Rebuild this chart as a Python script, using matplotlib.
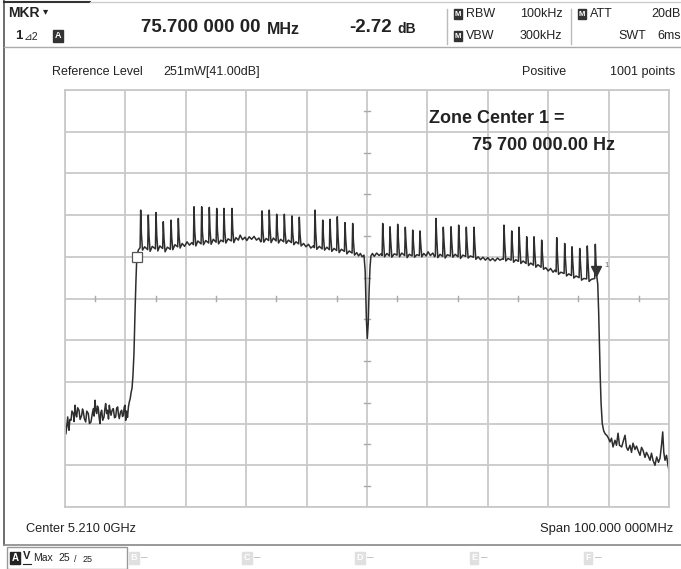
import numpy as np
import matplotlib
matplotlib.use("Agg")
import matplotlib.pyplot as plt
from matplotlib.lines import Line2D
from matplotlib.patches import Rectangle

plt.rcParams['font.family'] = ['Liberation Sans', 'DejaVu Sans']

# ---------------- data (frequency offset in MHz from 5160 MHz, level in dB) ----------------
start_freq_mhz = 5160.0
span_mhz = 100.0
ref_level_db = 41.0
db_per_div = 10.0

noise_left_f = [0.0, 0.15, 0.28, 0.45, 0.55, 0.66, 0.8, 0.99, 1.15, 1.38, 1.5, 1.66, 1.8, 1.93, 2.1, 2.32,
                2.5, 2.76, 2.9, 3.04, 3.2, 3.43, 3.6, 3.86, 4.05, 4.3, 4.5, 4.69, 4.82, 4.97, 5.1, 5.24,
                5.38, 5.52, 5.65, 5.79, 5.92, 6.07, 6.25, 6.46, 6.6, 6.73, 6.9, 7.06, 7.2, 7.34, 7.48,
                7.62, 7.8, 8.0, 8.2, 8.39, 8.55, 8.72, 8.85, 8.99, 9.2, 9.38, 9.52, 9.66, 9.8, 9.93, 10.05]
noise_left_v = [-39.0, -41.5, -39.8, -37.4, -39.5, -40.6, -38.0, -38.2, -36.0, -36.6, -38.5, -34.6, -36.8,
                -37.4, -35.2, -35.8, -38.0, -37.0, -35.5, -36.2, -37.8, -38.6, -36.0, -36.6, -39.0, -38.6,
                -36.8, -35.4, -37.2, -33.4, -35.8, -36.6, -34.8, -35.4, -37.5, -39.0, -36.4, -35.8, -38.2,
                -37.4, -35.5, -34.2, -36.6, -35.8, -37.9, -34.6, -36.0, -37.0, -35.8, -35.4, -37.6, -37.4,
                -35.3, -35.0, -36.9, -37.8, -36.2, -35.8, -37.3, -37.0, -35.1, -34.6, -38.2]

rise_f = [10.2, 10.35, 10.5, 10.65, 10.8, 10.95, 11.1, 11.25, 11.42, 11.59, 11.75, 11.87, 12.0, 12.14, 12.28]
rise_v = [-36.0, -37.5, -35.0, -33.8, -33.0, -31.5, -30.5, -27.5, -22.1, -12.5, -4.6, 0.2, 1.8, 2.6, 2.9]

g1_f = [12.43, 12.53, 12.65, 12.83, 13.2, 13.69, 13.79, 13.91, 14.09, 14.45, 14.97, 15.07, 15.19, 15.37, 15.7,
        16.17, 16.27, 16.39, 16.57, 16.95, 17.45, 17.55, 17.67, 17.85, 18.2, 18.66, 18.76, 18.88, 19.06, 19.4,
        19.8, 20.2, 20.6, 21.0]
g1_v = [3.2, 12.2, 6.5, 2.6, 3.4, 2.7, 11.0, 6.0, 2.3, 3.5, 2.9, 11.6, 6.2, 2.4, 3.6,
        3.0, 9.4, 5.4, 2.2, 3.3, 2.8, 9.8, 5.6, 2.7, 3.9, 3.4, 10.2, 6.0, 3.1, 4.2,
        3.5, 4.6, 3.8, 4.4]

g2_f = [21.26, 21.36, 21.48, 21.66, 22.0, 22.53, 22.63, 22.75, 22.93, 23.3, 23.79, 23.89, 24.01, 24.19, 24.55,
        25.02, 25.12, 25.24, 25.42, 25.8, 26.22, 26.32, 26.44, 26.62, 27.0, 27.55, 27.65, 27.77, 27.95, 28.3,
        28.7, 29.0, 29.4, 29.8, 30.1, 30.5, 30.9, 31.3, 31.7, 32.1, 32.4]
g2_v = [3.9, 13.0, 7.2, 3.6, 4.8, 4.1, 13.0, 7.0, 3.9, 4.9, 4.3, 12.85, 7.5, 4.0, 5.2,
        4.5, 12.6, 7.3, 4.1, 5.0, 4.6, 12.6, 7.4, 4.3, 5.3, 4.8, 12.6, 7.6, 4.4, 5.6,
        5.0, 6.2, 5.1, 5.7, 4.9, 5.8, 5.2, 5.9, 5.0, 5.5, 4.6]

g3_f = [32.52, 32.62, 32.74, 32.92, 33.3, 33.72, 33.82, 33.94, 34.12, 34.5, 34.95, 35.05, 35.17, 35.35, 35.7,
        36.21, 36.31, 36.43, 36.61, 37.0, 37.48, 37.58, 37.70, 37.88, 38.25, 38.69, 38.79, 38.91, 39.09, 39.5,
        39.9, 40.3, 40.7, 41.1]
g3_v = [4.7, 12.0, 7.6, 4.5, 5.4, 4.9, 12.2, 7.8, 4.4, 5.5, 4.8, 11.2, 7.3, 4.3, 5.2,
        4.6, 11.2, 7.1, 4.2, 5.0, 4.4, 10.8, 6.8, 3.9, 4.6, 4.1, 10.5, 6.5, 3.6, 4.2,
        3.4, 4.0, 3.1, 3.6]

g4_f = [41.29, 41.39, 41.51, 41.69, 42.1, 42.57, 42.67, 42.79, 42.97, 43.35, 43.77, 43.87, 43.99, 44.17, 44.55,
        44.98, 45.08, 45.20, 45.38, 45.75, 46.26, 46.36, 46.48, 46.66, 47.05, 47.53, 47.63, 47.75, 47.93, 48.3,
        48.6, 48.9, 49.2, 49.5]
g4_v = [3.2, 12.2, 7.0, 2.8, 3.5, 2.9, 9.8, 5.8, 2.6, 3.3, 2.7, 10.0, 5.9, 2.3, 3.0,
        2.5, 10.6, 6.0, 2.0, 2.8, 2.3, 9.2, 5.2, 1.7, 2.4, 1.9, 9.0, 4.8, 1.4, 2.0,
        1.2, 1.8, 1.0, 1.4]

dip_f = [49.7, 49.9, 50.05, 50.2, 50.35, 50.5, 50.65, 50.9, 51.2, 51.6, 52.0, 52.3]
dip_v = [-2.5, -14.0, -18.6, -15.0, -7.0, -1.5, 1.2, 1.8, 1.1, 1.9, 1.3, 1.7]

g5_f = [52.50, 52.60, 52.72, 52.90, 53.3, 53.71, 53.81, 53.93, 54.11, 54.5, 54.98, 55.08, 55.20, 55.38, 55.75,
        56.24, 56.34, 56.46, 56.64, 57.0, 57.47, 57.57, 57.69, 57.87, 58.25, 58.67, 58.77, 58.89, 59.07, 59.4,
        59.8, 60.1, 60.5, 60.9, 61.2]
g5_v = [1.3, 9.0, 5.2, 1.0, 1.8, 1.2, 8.2, 4.8, 0.9, 1.7, 1.4, 8.8, 5.0, 1.0, 1.9,
        1.3, 8.1, 4.6, 0.8, 1.6, 1.2, 7.4, 4.3, 0.9, 1.5, 1.3, 7.2, 4.2, 1.0, 1.8,
        1.2, 2.2, 1.3, 1.9, 1.0]

g6_f = [61.32, 61.42, 61.54, 61.72, 62.1, 62.53, 62.63, 62.75, 62.93, 63.3, 63.81, 63.91, 64.03, 64.21, 64.6,
        65.08, 65.18, 65.30, 65.48, 65.85, 66.34, 66.44, 66.56, 66.74, 67.1, 67.62, 67.72, 67.84, 68.02, 68.4,
        68.8, 69.2, 69.6, 70.0, 70.4, 70.8, 71.2, 71.6, 72.0, 72.4]
g6_v = [1.4, 10.2, 5.6, 0.8, 1.6, 1.1, 8.1, 4.6, 0.7, 1.5, 1.2, 8.2, 4.7, 0.9, 1.6,
        1.0, 8.6, 4.8, 0.6, 1.4, 1.1, 8.1, 4.5, 0.7, 1.2, 0.9, 8.1, 4.4, 0.4, 1.0,
        0.3, 0.9, 0.2, 0.8, 0.1, 0.6, 0.0, 0.7, 0.2, 0.5]

g7_f = [72.58, 72.68, 72.80, 72.98, 73.35, 73.86, 73.96, 74.08, 74.26, 74.65, 75.07, 75.17, 75.29, 75.47, 75.85,
        76.34, 76.44, 76.56, 76.74, 77.1, 77.55, 77.65, 77.77, 77.95, 78.3, 78.82, 78.92, 79.04, 79.22, 79.6,
        80.0, 80.4, 80.8, 81.1]
g7_v = [0.4, 8.6, 4.4, 0.0, 0.6, 0.2, 7.2, 3.8, -0.3, 0.3, -0.1, 8.1, 3.9, -0.6, 0.0,
        -0.6, 5.8, 2.6, -1.1, -0.5, -1.0, 5.8, 2.4, -1.5, -0.9, -1.5, 5.0, 1.8, -2.0, -1.6,
        -2.4, -1.8, -2.7, -2.2]

g8_f = [81.31, 81.41, 81.53, 81.71, 82.1, 82.63, 82.73, 82.85, 83.03, 83.4, 83.84, 83.94, 84.06, 84.24, 84.6,
        85.12, 85.22, 85.34, 85.52, 85.9, 86.37, 86.47, 86.59, 86.77, 87.15, 87.70, 87.80, 87.92, 88.05]
g8_v = [-2.6, 5.6, 1.5, -3.2, -2.7, -3.0, 4.2, 0.6, -3.6, -3.1, -3.5, 3.4, 0.0, -4.1, -3.6,
        -4.0, 3.0, -0.4, -4.6, -4.2, -4.3, 3.6, -0.2, -4.9, -4.4, -4.2, 4.0, -0.5, -3.8]

fall_f = [88.2, 88.35, 88.5, 88.62, 88.75, 88.95, 89.2, 89.45]
fall_v = [-5.5, -12.0, -21.0, -28.0, -34.0, -39.0, -40.8, -41.5]

noise_right_f = [89.69, 89.98, 90.23, 90.48, 90.73, 91.06, 91.31, 91.56, 91.80, 92.17, 92.47, 92.72, 92.96,
                 93.21, 93.54, 93.79, 94.04, 94.37, 94.62, 94.87, 95.20, 95.45, 95.70, 96.03, 96.27, 96.52,
                 96.85, 97.10, 97.35, 97.68, 97.96, 98.26, 98.51, 98.76, 98.96, 99.14, 99.34, 99.59, 99.83, 100.0]
noise_right_v = [-41.8, -42.5, -43.4, -42.5, -44.6, -43.0, -44.2, -41.3, -44.2, -44.6, -43.0, -41.8, -44.7,
                 -45.4, -44.2, -45.9, -43.7, -45.2, -44.4, -45.4, -46.6, -44.7, -45.4, -47.1, -45.9, -46.6,
                 -47.8, -46.1, -47.8, -49.0, -47.0, -48.3, -47.3, -44.2, -41.0, -45.9, -47.8, -46.6, -49.0, -50.2]

marker1_f, marker1_v = 87.95, -2.3
marker2_f, marker2_v = 11.87, 1.0

# ---------------- figure ----------------
W, H = 681, 569
fig = plt.figure(figsize=(W / 100, H / 100), dpi=100)
fig.patch.set_facecolor('white')


def X(x):
    return x / W


def Y(y):
    return 1 - y / H


def hline(y, x0, x1, color='#b0b0b0', lw=1.0):
    fig.add_artist(Line2D([X(x0), X(x1)], [Y(y), Y(y)], transform=fig.transFigure, color=color, lw=lw))


def vline(x, y0, y1, color='#b0b0b0', lw=1.0):
    fig.add_artist(Line2D([X(x), X(x)], [Y(y0), Y(y1)], transform=fig.transFigure, color=color, lw=lw))


def txt(x, y, s, size=8, weight='normal', ha='left', color='#222222', **kw):
    fig.text(X(x), Y(y), s, fontsize=size, fontweight=weight, ha=ha, va='center', color=color, **kw)


def icon(x, y, s, size=5.5, fc='#333333', tc='white'):
    fig.text(X(x), Y(y), s, fontsize=size, fontweight='bold', ha='center', va='center', color=tc,
             bbox=dict(boxstyle='square,pad=0.15', fc=fc, ec=fc))


# frame lines
vline(4, 0, 545, color='#555555', lw=1.2)
hline(1.5, 4, 90, color='#333333', lw=1.5)
hline(1.5, 90, 681, color='#cccccc', lw=1.0)
hline(47, 4, 681, color='#aaaaaa', lw=1.0)
hline(545, 4, 681, color='#888888', lw=1.2)
vline(447, 9, 44, color='#bbbbbb', lw=1.0)
vline(571, 9, 44, color='#bbbbbb', lw=1.0)

# header
txt(8, 13, 'MKR', size=10, weight='bold')
txt(43, 11, '▾', size=7.5, weight='bold')
txt(15, 36, '1', size=9.5, weight='bold')
txt(24, 37, '⊿2', size=7.5)
icon(58, 36, 'A', size=6.5)
txt(141, 28, '75.700 000 00', size=13.5, weight='bold')
txt(267, 29, 'MHz', size=11.5, weight='bold')
txt(349, 28, '-2.72', size=13.5, weight='bold')
txt(397, 29, 'dB', size=10, weight='bold')

icon(458, 14, 'M', size=5.5)
txt(466, 14, 'RBW', size=9)
icon(458, 36, 'M', size=5.5)
txt(466, 36, 'VBW', size=9)
txt(520, 14, '100kHz', size=9)
txt(520, 36, '300kHz', size=9)
icon(582, 14, 'M', size=5.5)
txt(590, 14, 'ATT', size=9)
txt(618, 36, 'SWT', size=9)
txt(681, 14, '20dB', size=9, ha='right')
txt(681, 36, '6ms', size=9, ha='right')

txt(52, 72, 'Reference Level', size=9)
txt(163, 72, '251mW[41.00dB]', size=9)
txt(522, 72, 'Positive', size=9)
txt(675, 72, '1001 points', size=9, ha='right')

txt(26, 529, 'Center 5.210 0GHz', size=9.2)
txt(673, 529, 'Span 100.000 000MHz', size=9.4, ha='right')

# bottom tabs
fig.add_artist(Rectangle((X(7), Y(569)), X(127) - X(7), Y(547) - Y(569), transform=fig.transFigure,
                         fill=False, ec='#999999', lw=1.0))
icon(15, 558, 'A', size=7, fc='#222222')
txt(23, 556, 'V', size=8, weight='bold')
hline(564, 23, 31, color='#222222', lw=0.8)
txt(33, 558, 'Max', size=7.5)
txt(58, 558, '25', size=7.5)
txt(74, 560, '/', size=6.5)
txt(83, 560, '25', size=6.5)
for xx, lab in zip([134, 247, 360, 474, 588], ['B', 'C', 'D', 'E', 'F']):
    icon(xx, 558, lab, size=6.5, fc='#e0e0e0', tc='#ffffff')
    txt(xx + 7, 558, '–', size=8.5, color='#bbbbbb')

# ---------------- plot area ----------------
ax = fig.add_axes([X(65), Y(507), X(669) - X(65), Y(90) - Y(507)])
xmin, xmax = start_freq_mhz, start_freq_mhz + span_mhz
ymax = ref_level_db
ymin = ref_level_db - 10 * db_per_div
ax.set_xlim(xmin, xmax)
ax.set_ylim(ymin, ymax)
ax.set_xticks(np.arange(xmin, xmax + 0.1, 10))
ax.set_yticks(np.arange(ymin, ymax + 0.1, 10))
ax.tick_params(length=0, labelbottom=False, labelleft=False)
grid_col = '#c9c9c9'
ax.grid(True, color=grid_col, lw=1.3)
for sp in ax.spines.values():
    sp.set_color(grid_col)
    sp.set_linewidth(1.3)
ax.set_axisbelow(True)

# centre-line minor ticks
xc = start_freq_mhz + span_mhz / 2
yc = ref_level_db - 5 * db_per_div
for k in range(10):
    xm = xmin + 5 + 10 * k
    ax.plot([xm, xm], [yc - 0.55, yc + 0.55], color='#aaaaaa', lw=1.0)
    ym = ymin + 5 + 10 * k
    ax.plot([xc - 0.45, xc + 0.45], [ym, ym], color='#aaaaaa', lw=1.0)

segments = [(noise_left_f, noise_left_v), (rise_f, rise_v), (g1_f, g1_v), (g2_f, g2_v), (g3_f, g3_v),
            (g4_f, g4_v), (dip_f, dip_v), (g5_f, g5_v), (g6_f, g6_v), (g7_f, g7_v), (g8_f, g8_v),
            (fall_f, fall_v), (noise_right_f, noise_right_v)]
trace_f = np.concatenate([np.asarray(f) for f, _ in segments]) + start_freq_mhz
trace_v = np.concatenate([np.asarray(v) for _, v in segments])
ax.plot(trace_f, trace_v, color='#2e2e2e', lw=1.1)

# markers
ax.plot(start_freq_mhz + marker2_f, marker2_v, marker='s', ms=6.5, mfc='white', mec='#555555', mew=0.9)
ax.plot(start_freq_mhz + marker1_f, marker1_v, marker='v', ms=7, mfc='#333333', mec='#333333')
ax.text(start_freq_mhz + marker1_f + 1.4, marker1_v + 1.3, '1', fontsize=5.5, color='#666666',
        ha='left', va='center')

fig.text(X(497), Y(118), 'Zone Center 1 =', fontsize=13, fontweight='bold', ha='center', va='center',
         color='#222222')
fig.text(X(543), Y(145), '75 700 000.00 Hz', fontsize=13, fontweight='bold', ha='center', va='center',
         color='#222222')

fig.savefig('out.png', dpi=100, facecolor='white')
